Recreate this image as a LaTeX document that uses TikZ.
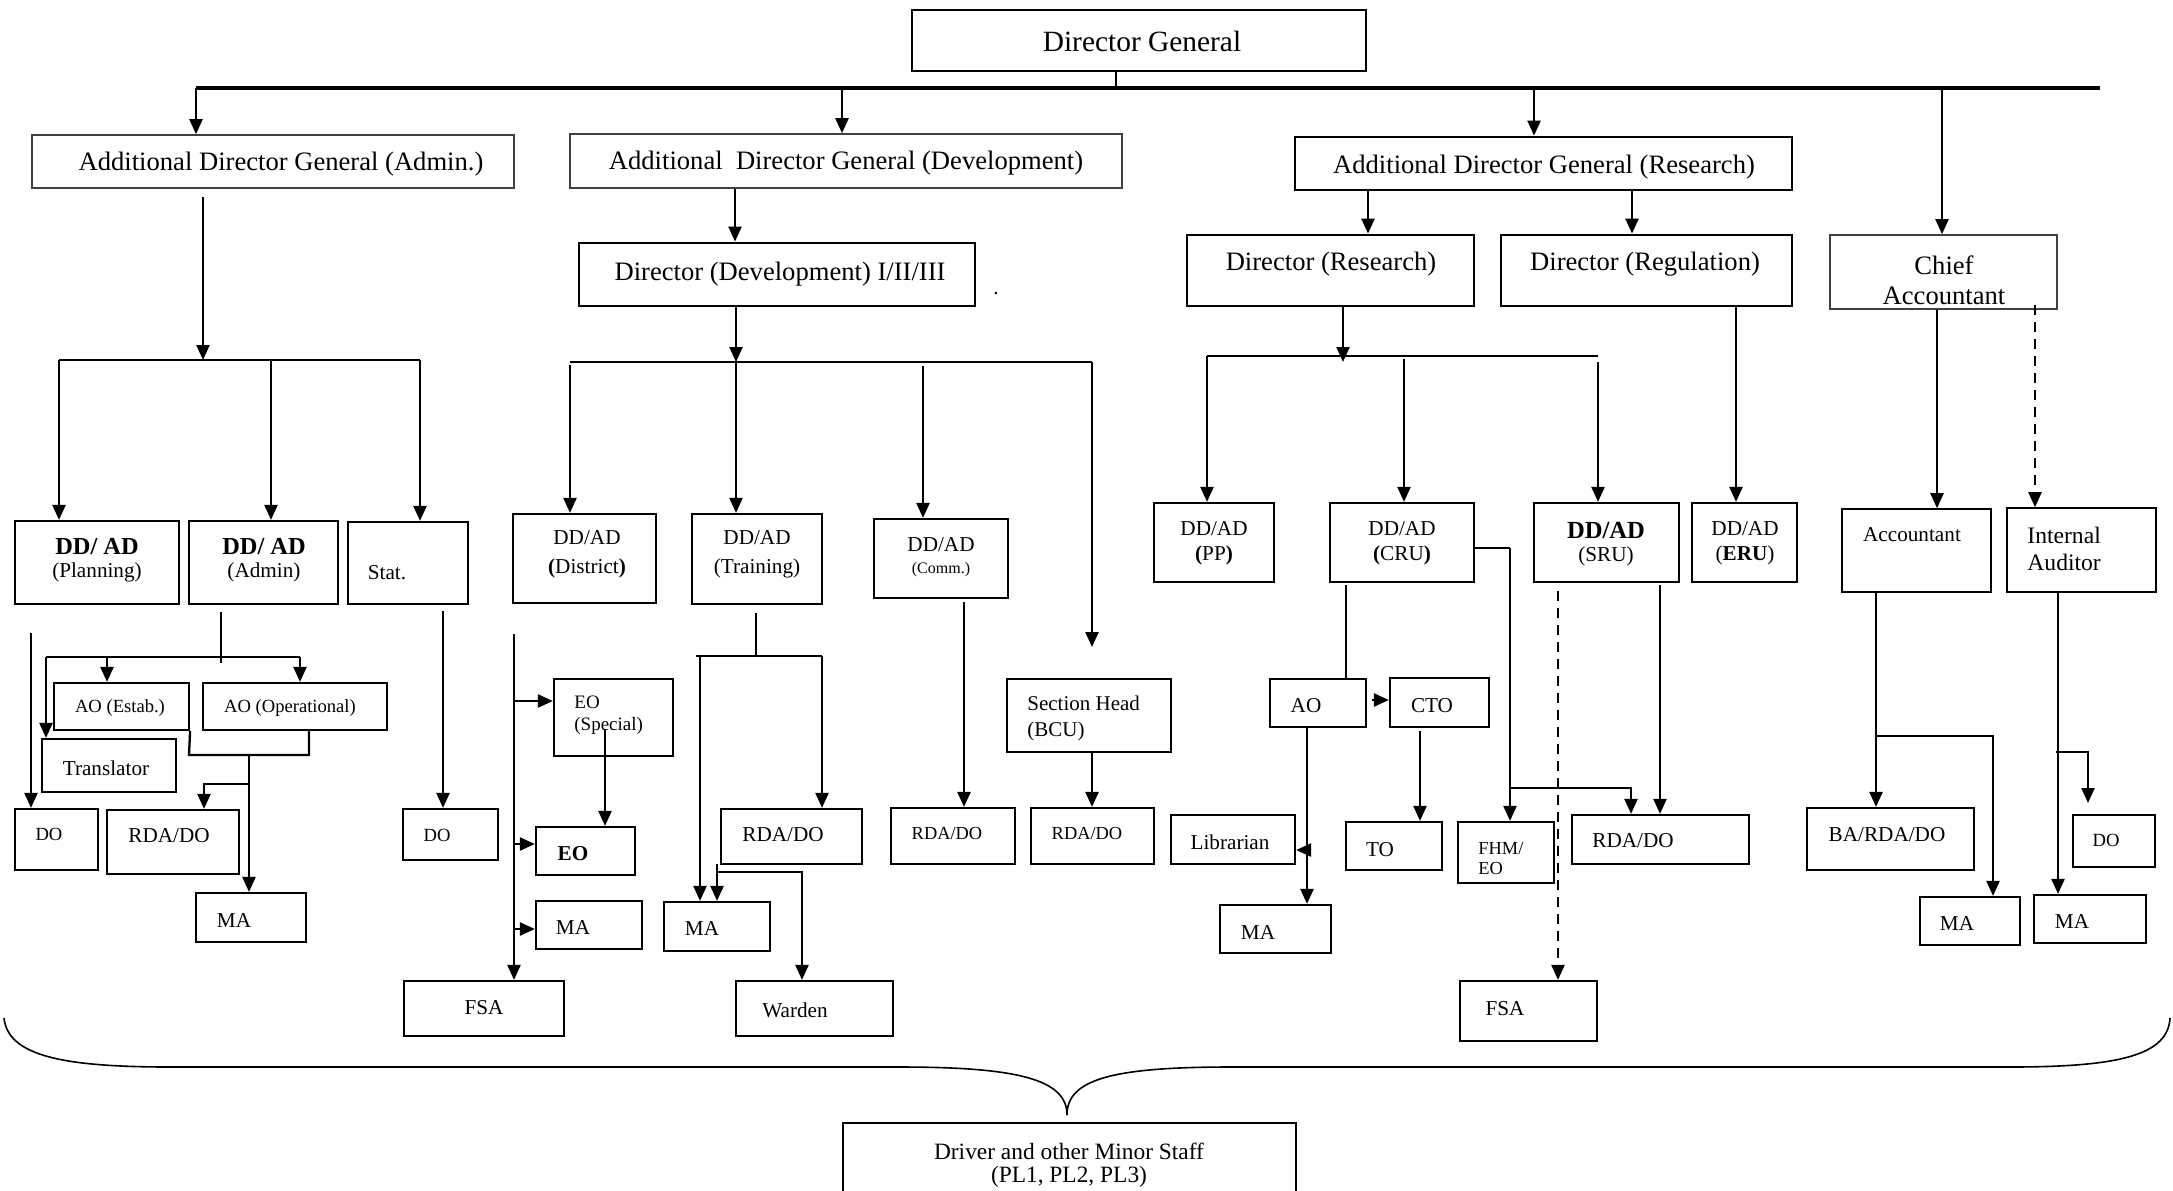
\documentclass[tikz,border=0pt]{standalone}
\usepackage{fontspec}
\setmainfont{Liberation Serif}
\usetikzlibrary{arrows.meta}
\newcommand\fsz[2]{\fontsize{#1}{#2}\selectfont}
\newcommand\ob[6][bx]{\node[#1,minimum width={(#5-#3)*0.5pt},minimum height={(#6-#4)*0.5pt}] (#2) at ({(#3+#5)/2},{(#4+#6)/2}) {};}
\begin{document}
\begin{tikzpicture}[x=0.5pt,y=-0.5pt,
  bx/.style={draw,line width=1.1pt,inner sep=0pt},
  bxk/.style={draw,line width=1.4pt,inner sep=0pt},
  bxg/.style={draw=black!75,line width=0.8pt,inner sep=0pt},
  bxm/.style={draw,line width=0.8pt,inner sep=0pt},
  tx/.style={inner sep=0pt,align=center,font=\fsz{10.6}{12.5},yshift=-1.5pt},
  ln/.style={line width=1.15pt},
  thinln/.style={line width=0.6pt},
  arr/.style={line width=1.15pt,-{Triangle[length=7.5pt,width=6.5pt]}},
  dsh/.style={dash pattern=on 5pt off 3.5pt}]
\clip (0,0) rectangle (2173,1190);
\useasboundingbox (0,0) rectangle (2173,1190);
% ---------- boxes ----------
\ob[bxk]{DG}{912}{10}{1366}{71}
\ob[bxg]{ADGA}{32}{135}{514}{188}
\ob[bxg]{ADGD}{570}{134}{1122}{188}
\ob[bxk]{DirDev}{579}{243}{975}{306}
\ob[bxk]{ADGR}{1295}{137}{1792}{190}
\ob[bxk]{DirRes}{1187}{235}{1474}{306}
\ob[bxk]{DirReg}{1501}{235}{1792}{306}
\ob[bxg]{Chief}{1830}{235}{2057}{309}
\ob{DDP}{15}{521}{179}{604}
\ob{DDA}{189}{521}{338}{604}
\ob{Stat}{348}{522}{468}{604}
\ob{DDDist}{513}{514}{656}{603}
\ob{DDTrain}{692}{514}{822}{604}
\ob{DDComm}{874}{519}{1008}{598}
\ob{DDPP}{1154}{503}{1274}{582}
\ob{DDCRU}{1330}{503}{1474}{582}
\ob{DDSRU}{1534}{503}{1679}{582}
\ob{DDERU}{1692}{503}{1797}{582}
\ob[bxm]{Acct}{1842}{509}{1991}{592}
\ob[bxm]{IntAud}{2007}{508}{2156}{592}
\ob{AOE}{54}{683}{189}{730}
\ob{AOO}{203}{683}{387}{730}
\ob{Transl}{42}{739}{176}{792}
\ob{EOS}{554}{679}{673}{756}
\ob{SecHead}{1007}{679}{1171}{752}
\ob{AO}{1270}{679}{1366}{727}
\ob{CTO}{1390}{678}{1489}{727}
\ob{DOa}{15}{809}{98}{870}
\ob{RDAa}{107}{810}{239}{874}
\ob{MAa}{196}{893}{306}{942}
\ob{DOb}{403}{809}{498}{860}
\ob{EO}{536}{827}{635}{875}
\ob{MAb}{536}{901}{642}{949}
\ob{FSAa}{404}{981}{564}{1036}
\ob{RDAb}{721}{809}{862}{864}
\ob{MAc}{664}{902}{770}{951}
\ob{Warden}{736}{981}{893}{1036}
\ob{RDAc}{891}{808}{1015}{864}
\ob{RDAd}{1031}{808}{1154}{864}
\ob{Libr}{1171}{815}{1295}{864}
\ob{MAd}{1220}{905}{1331}{953}
\ob{TO}{1346}{822}{1442}{870}
\ob{FHM}{1458}{822}{1554}{883}
\ob{RDAe}{1572}{815}{1749}{864}
\ob{FSAb}{1460}{981}{1597}{1041}
\ob{BARDA}{1807}{808}{1974}{870}
\ob{MAe}{1920}{897}{2020}{945}
\ob{DOc}{2073}{815}{2155}{867}
\ob{MAf}{2034}{895}{2146}{943}
\ob{Driver}{843}{1123}{1296}{1230}
% ---------- texts ----------
\node[tx,font=\fsz{14.7}{17}] (DG-t) at (1142,38) {Director General};
\node[tx,font=\fsz{13.3}{15}] (ADGA-t) at (281,161) {Additional Director General (Admin.)};
\node[tx,font=\fsz{13.3}{15}] (ADGD-t) at (846,160) {Additional~ Director General (Development)};
\node[tx,font=\fsz{13.3}{15}] (DirDev-t) at (780,271) {Director (Development) I/II/III};
\node[tx] (dot) at (996,291) {.};
\node[tx,font=\fsz{13.3}{15}] (ADGR-t) at (1544,164) {Additional Director General (Research)};
\node[tx,font=\fsz{13.3}{15}] (DirRes-t) at (1331,261) {Director (Research)};
\node[tx,font=\fsz{13.3}{15}] (DirReg-t) at (1645,261) {Director (Regulation)};
\node[tx,font=\fsz{13.3}{15}] (Chief-t) at (1944,277) {Chief\\Accountant};
\node[tx,font=\fsz{12.2}{12.5}\bfseries] (DDP-t1) at (97,544) {DD/ AD};
\node[tx] (DDP-t2) at (97,569) {(Planning)};
\node[tx,font=\fsz{12.2}{12.5}\bfseries] (DDA-t1) at (264,544) {DD/ AD};
\node[tx] (DDA-t2) at (264,569) {(Admin)};
\node[tx] (Stat-t) at (387,570) {Stat.};
\node[tx,font=\fsz{10.6}{14.5}] (DDDist-t) at (587,551) {DD/AD\\\textbf{(}District\textbf{)}};
\node[tx,font=\fsz{10.6}{14.5}] (DDTrain-t) at (757,551) {DD/AD\\(Training)};
\node[tx] (DDComm-t1) at (941,542) {DD/AD};
\node[tx,font=\fsz{8}{9}] (DDComm-t2) at (941,567) {(Comm.)};
\node[tx] (DDPP-t) at (1214,540) {DD/AD\\\textbf{(}PP\textbf{)}};
\node[tx] (DDCRU-t) at (1402,540) {DD/AD\\\textbf{(}CRU\textbf{)}};
\node[tx,font=\fsz{12.3}{13}\bfseries] (DDSRU-t1) at (1606,527) {DD/AD};
\node[tx] (DDSRU-t2) at (1606,553) {(SRU)};
\node[tx] (DDERU-t) at (1745,540) {DD/AD\\(\textbf{ERU})};
\node[tx] (Acct-t) at (1912,532) {Accountant};
\node[tx,font=\fsz{11.8}{13.5},align=left,anchor=west] (IntAud-t) at (2027,546) {Internal\\Auditor};
\node[tx,font=\fsz{9.3}{11}] (AOE-t) at (120,705) {AO (Estab.)};
\node[tx,font=\fsz{9.3}{11}] (AOO-t) at (290,705) {AO (Operational)};
\node[tx] (Transl-t) at (106,765) {Translator};
\node[tx,font=\fsz{9.5}{11},align=left,anchor=west] (EOS-t) at (574,712) {EO\\(Special)};
\node[tx,font=\fsz{10.5}{13},align=left,anchor=west] (SecHead-t) at (1027,715) {Section Head\\(BCU)};
\node[tx] (AO-t) at (1306,703) {AO};
\node[tx] (CTO-t) at (1432,703) {CTO};
\node[tx,font=\fsz{9.3}{11}] (DOa-t) at (49,831) {DO};
\node[tx] (RDAa-t) at (169,833) {RDA/DO};
\node[tx] (MAa-t) at (234,917) {MA};
\node[tx,font=\fsz{9.3}{11}] (DOb-t) at (437,832) {DO};
\node[tx,font=\fsz{10.6}{12}\bfseries] (EO-t) at (573,851) {EO};
\node[tx] (MAb-t) at (573,924) {MA};
\node[tx] (FSAa-t) at (484,1005) {FSA};
\node[tx] (RDAb-t) at (783,832) {RDA/DO};
\node[tx] (MAc-t) at (702,925) {MA};
\node[tx] (Warden-t) at (795,1007) {Warden};
\node[tx,font=\fsz{9.2}{11}] (RDAc-t) at (947,830) {RDA/DO};
\node[tx,font=\fsz{9.2}{11}] (RDAd-t) at (1087,830) {RDA/DO};
\node[tx] (Libr-t) at (1230,839) {Librarian};
\node[tx] (MAd-t) at (1258,929) {MA};
\node[tx] (TO-t) at (1380,847) {TO};
\node[tx,font=\fsz{9.2}{10},align=left,anchor=west] (FHM-t) at (1478,856) {FHM/\\EO};
\node[tx] (RDAe-t) at (1633,838) {RDA/DO};
\node[tx] (FSAb-t) at (1505,1006) {FSA};
\node[tx] (BARDA-t) at (1887,832) {BA/RDA/DO};
\node[tx] (MAe-t) at (1957,920) {MA};
\node[tx,font=\fsz{9.3}{11}] (DOc-t) at (2106,837) {DO};
\node[tx] (MAf-t) at (2072,918) {MA};
\node[tx,font=\fsz{11.7}{11.5}] (Driver-t) at (1069,1162) {Driver and other Minor Staff\\(PL1, PL2, PL3)};
% ---------- top connectors ----------
\draw[thinln] (DG.south -| 1116,0) -- (1116,88);
\draw[line width=1.6pt] (196,88) -- (2100,88);
\draw[arr] (196,88) -- (ADGA.north -| 196,0);
\draw[arr] (842,88) -- (ADGD.north -| 842,0);
\draw[arr] (1534,88) -- (ADGR.north -| 1534,0);
\draw[arr] (1942,88) -- (Chief.north -| 1942,0);
\draw[arr] (ADGD.south -| 735,0) -- (DirDev.north -| 735,0);
\draw[arr] (ADGR.south -| 1368,0) -- (DirRes.north -| 1368,0);
\draw[arr] (ADGR.south -| 1632,0) -- (DirReg.north -| 1632,0);
% ---------- admin ----------
\draw[arr] (203,197) -- (203,360);
\draw[ln] (59,360) -- (420,360);
\draw[arr] (59,360) -- (DDP.north -| 59,0);
\draw[arr] (271,360) -- (DDA.north -| 271,0);
\draw[arr] (420,360) -- (Stat.north -| 420,0);
\draw[arr] (31,633) -- (DOa.north -| 31,0);
\draw[ln] (221,612) -- (221,663);
\draw[ln] (46,657) -- (300,657);
\draw[arr] (107,657) -- (AOE.north -| 107,0);
\draw[arr] (300,657) -- (AOO.north -| 300,0);
\draw[arr] (46,657) -- (Transl.north -| 46,0);
\draw[ln] (AOE.south east) -- (189,755) -- (309,755) -- (AOO.south -| 309,0);
\draw[arr] (249,755) -- (MAa.north -| 249,0);
\draw[arr] (249,784) -- (204,784) -- (RDAa.north -| 204,0);
\draw[arr] (443,611) -- (DOb.north -| 443,0);
% ---------- development ----------
\draw[arr] (DirDev.south -| 736,0) -- (736,362);
\draw[ln] (570,362) -- (1092,362);
\draw[arr] (570,365) -- (DDDist.north -| 570,0);
\draw[arr] (736,362) -- (DDTrain.north -| 736,0);
\draw[arr] (923,366) -- (DDComm.north -| 923,0);
\draw[arr] (1092,362) -- (1092,647);
\draw[arr] (514,634) -- (FSAa.north -| 514,0);
\draw[arr] (514,701) -- (EOS.west |- 0,701);
\draw[arr] (514,844) -- (EO.west |- 0,844);
\draw[arr] (514,929) -- (MAb.west |- 0,929);
\draw[arr] (605,730) -- (EO.north -| 605,0);
\draw[ln] (756,613) -- (756,656);
\draw[ln] (696,656) -- (822,656);
\draw[arr] (700,656) -- (MAc.north -| 700,0);
\draw[arr] (822,656) -- (RDAb.north -| 822,0);
\draw[arr] (717,864) -- (MAc.north -| 717,0);
\draw[arr] (717,872) -- (802,872) -- (Warden.north -| 802,0);
\draw[arr] (964,602) -- (RDAc.north -| 964,0);
\draw[arr] (SecHead.south -| 1092,0) -- (RDAd.north -| 1092,0);
% ---------- research ----------
\draw[arr] (DirRes.south -| 1343,0) -- (1343,362);
\draw[thinln] (1207,356) -- (1598,356);
\draw[arr] (1207,356) -- (DDPP.north -| 1207,0);
\draw[arr] (1404,359) -- (DDCRU.north -| 1404,0);
\draw[arr] (1598,362) -- (DDSRU.north -| 1598,0);
\draw[arr] (DirReg.south -| 1736,0) -- (DDERU.north -| 1736,0);
\draw[ln] (DDCRU.east |- 0,548) -- (1510,548);
\draw[arr] (1510,548) -- (FHM.north -| 1510,0);
\draw[arr] (1510,788) -- (1631,788) -- (RDAe.north -| 1631,0);
\draw[ln] (1346,585) -- (AO.north -| 1346,0);
\draw[arr] (1372,700) -- (CTO.west |- 0,700);
\draw[arr] (AO.south -| 1307,0) -- (MAd.north -| 1307,0);
\draw[arr] (1307,850) -- (Libr.east |- 0,850);
\draw[arr] (1420,731) -- (TO.north -| 1420,0);
\draw[arr,dsh] (1558,591) -- (FSAb.north -| 1558,0);
\draw[arr] (1660,585) -- (RDAe.north -| 1660,0);
% ---------- accounts ----------
\draw[arr] (Chief.south -| 1937,0) -- (Acct.north -| 1937,0);
\draw[arr,dsh] (2035,305) -- (IntAud.north -| 2035,0);
\draw[arr] (Acct.south -| 1876,0) -- (BARDA.north -| 1876,0);
\draw[arr] (1876,736) -- (1993,736) -- (MAe.north -| 1993,0);
\draw[arr] (IntAud.south -| 2058,0) -- (MAf.north -| 2058,0);
\draw[arr] (2056,752) -- (2088,752) -- (2088,803);
% ---------- brace ----------
\draw[line width=0.8pt] (4,1018) .. controls (8,1055) and (60,1067) .. (170,1067) -- (900,1067) .. controls (1020,1067) and (1067,1080) .. (1067,1115);
\draw[line width=0.8pt] (1067,1115) .. controls (1067,1080) and (1110,1067) .. (1230,1067) -- (2010,1067) .. controls (2120,1067) and (2168,1055) .. (2170,1018);
\end{tikzpicture}
\end{document}
